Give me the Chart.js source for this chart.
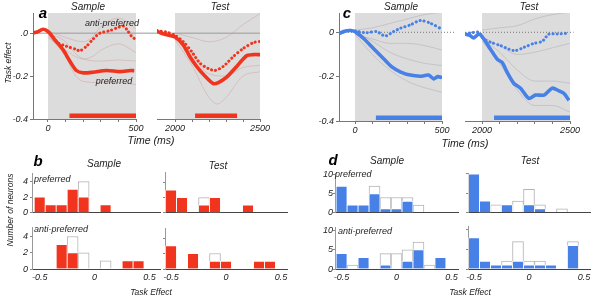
<!DOCTYPE html>
<html>
<head>
<meta charset="utf-8">
<script src="https://cdn.jsdelivr.net/npm/chart.js@4.4.0/dist/chart.umd.min.js"></script>
<style>
body { margin: 0; background: #fff; width: 601px; height: 298px; position: relative; overflow: hidden;
       font-family: "Liberation Sans", Arial, sans-serif; }
canvas { position: absolute; }
.t { position: absolute; transform: translate(-50%, -50%); white-space: nowrap; font-style: italic; color: #222; line-height: 1; }
.l { position: absolute; transform: translate(0, -50%); white-space: nowrap; font-style: italic; color: #222; font-size: 9px; line-height: 1; }
.lt { font-size: 15px; font-weight: bold; color: #000; }
.ttl { font-size: 10px; }
.ax { font-size: 10.5px; }
.rot { transform: translate(-50%, -50%) rotate(-90deg); font-size: 8.5px; }
</style>
</head>
<body>
<canvas id="aS" width="150" height="135" style="left:0;top:0"></canvas>
<canvas id="aT" width="125" height="135" style="left:150px;top:0"></canvas>
<canvas id="cS" width="155" height="135" style="left:300px;top:0"></canvas>
<canvas id="cT" width="140" height="135" style="left:455px;top:0"></canvas>

<canvas id="bSP" width="165" height="55" style="left:0;top:165px"></canvas>
<canvas id="bSA" width="165" height="78" style="left:0;top:220px"></canvas>
<canvas id="bTP" width="150" height="53" style="left:150px;top:165px"></canvas>
<canvas id="bTA" width="150" height="78" style="left:150px;top:220px"></canvas>
<canvas id="dSP" width="165" height="53" style="left:300px;top:165px"></canvas>
<canvas id="dSA" width="165" height="78" style="left:300px;top:220px"></canvas>
<canvas id="dTP" width="146" height="53" style="left:455px;top:165px"></canvas>
<canvas id="dTA" width="146" height="78" style="left:455px;top:220px"></canvas>

<div class="t lt" style="left:43px;top:12px">a</div>
<div class="t ttl" style="left:88px;top:7px">Sample</div>
<div class="t ttl" style="left:220px;top:7px">Test</div>
<div class="t" style="left:112px;top:23px;font-size:9px">anti-preferred</div>
<div class="t" style="left:114px;top:81px;font-size:9px">preferred</div>
<div class="t rot" style="left:8px;top:63px">Task effect</div>
<div class="t ax" style="left:151px;top:140px">Time (ms)</div>

<div class="t lt" style="left:347px;top:12px">c</div>
<div class="t ttl" style="left:401px;top:7px">Sample</div>
<div class="t ttl" style="left:529px;top:7px">Test</div>
<div class="t ax" style="left:465px;top:143px">Time (ms)</div>

<div class="t lt" style="left:38px;top:160px">b</div>
<div class="t ttl" style="left:104px;top:164px">Sample</div>
<div class="t ttl" style="left:218px;top:166px">Test</div>
<div class="l" style="left:34px;top:179px">preferred</div>
<div class="l" style="left:34px;top:229px">anti-preferred</div>
<div class="t rot" style="left:10px;top:210px">Number of neurons</div>
<div class="t" style="left:151px;top:292px;font-size:8.5px">Task Effect</div>

<div class="t lt" style="left:333px;top:159px">d</div>
<div class="t ttl" style="left:387px;top:161px">Sample</div>
<div class="t ttl" style="left:530px;top:161px">Test</div>
<div class="l" style="left:335px;top:174px">preferred</div>
<div class="l" style="left:338px;top:231px">anti-preferred</div>
<div class="t" style="left:470px;top:292px;font-size:8.5px">Task Effect</div>

<script>
// ---------- time courses (ms -> task effect) ----------
var aSamplePrefT = [-88, -60, -28, 0, 38, 85, 124, 161, 200, 256, 333, 408, 470, 490];
var aSamplePrefV = [0.0, 0.006, 0.018, 0.008, -0.03, -0.076, -0.13, -0.174, -0.185, -0.182, -0.174, -0.179, -0.174, -0.175];
var aSampleAntiT = [-88, -60, -28, 10, 57, 105, 162, 181, 219, 257, 295, 352, 399, 428, 447, 475, 494];
var aSampleAntiV = [0.0, 0.006, 0.018, 0.0, -0.045, -0.061, -0.076, -0.083, -0.061, -0.027, 0.0, 0.012, 0.027, 0.033, 0.018, -0.015, -0.027];
var aSampleBands = [
  [[0, 100, 150, 200, 300, 400, 500], [0.0, -0.04, -0.09, -0.12, -0.13, -0.125, -0.13]],
  [[0, 100, 150, 200, 300, 400, 500], [-0.01, -0.11, -0.19, -0.225, -0.23, -0.23, -0.24]],
  [[0, 100, 200, 250, 300, 400, 500], [0.01, -0.02, -0.04, -0.02, 0.03, 0.07, 0.02]],
  [[0, 100, 200, 250, 300, 400, 500], [-0.02, -0.08, -0.12, -0.11, -0.08, -0.05, -0.09]]
];
var aSampleSig = [122, 500];

var aTestPrefT = [1895, 1951, 2000, 2049, 2088, 2127, 2176, 2225, 2255, 2304, 2363, 2421, 2461, 2500];
var aTestPrefV = [0.008, -0.008, -0.018, -0.056, -0.11, -0.155, -0.2, -0.235, -0.23, -0.205, -0.155, -0.105, -0.1, -0.1];
var aTestAntiT = [1895, 1951, 2000, 2049, 2098, 2147, 2196, 2235, 2284, 2343, 2402, 2461, 2500];
var aTestAntiV = [0.012, 0.005, -0.01, -0.04, -0.086, -0.14, -0.165, -0.174, -0.155, -0.109, -0.071, -0.044, -0.038];
var aTestBands = [
  [[2000, 2100, 2200, 2300, 2400, 2500], [0.0, -0.02, -0.04, -0.02, 0.04, 0.09]],
  [[2000, 2100, 2200, 2300, 2400, 2500], [-0.02, -0.1, -0.19, -0.2, -0.16, -0.15]],
  [[2000, 2100, 2200, 2250, 2300, 2400, 2500], [-0.03, -0.15, -0.3, -0.33, -0.3, -0.2, -0.18]]
];
var aTestSig = [2118, 2365];

var cSamplePrefT = [-90, -60, -29, 0, 48, 106, 163, 212, 260, 317, 375, 423, 452, 475, 500];
var cSamplePrefV = [-0.005, 0.005, 0.008, 0.003, -0.027, -0.073, -0.118, -0.156, -0.178, -0.193, -0.198, -0.193, -0.21, -0.2, -0.204];
var cSampleAntiT = [-90, -60, -29, 19, 67, 125, 173, 221, 260, 317, 375, 433, 500];
var cSampleAntiV = [-0.005, 0.003, 0.01, 0.003, -0.002, 0.003, -0.017, 0.003, 0.018, 0.033, 0.053, 0.041, 0.014];
var cSampleBands = [
  [[0, 100, 200, 300, 400, 500], [0.01, 0.02, 0.04, 0.06, 0.08, 0.09]],
  [[0, 100, 200, 300, 400, 500], [-0.01, -0.03, -0.05, -0.05, -0.06, -0.08]],
  [[0, 100, 200, 300, 400, 500], [0.0, -0.04, -0.09, -0.12, -0.14, -0.15]],
  [[0, 100, 200, 300, 400, 500], [-0.01, -0.1, -0.17, -0.22, -0.25, -0.27]]
];
var cSampleSig = [120, 500];

var cTestPrefT = [1905, 1933, 1952, 1981, 2000, 2048, 2086, 2114, 2143, 2181, 2219, 2266, 2304, 2352, 2399, 2437, 2466, 2494];
var cTestPrefV = [-0.008, -0.015, -0.026, -0.008, -0.02, -0.076, -0.121, -0.136, -0.181, -0.231, -0.252, -0.298, -0.283, -0.283, -0.252, -0.264, -0.276, -0.307];
var cTestAntiT = [1905, 1933, 1981, 2010, 2048, 2105, 2152, 2190, 2238, 2295, 2342, 2380, 2428, 2475, 2494];
var cTestAntiV = [-0.008, -0.003, 0.0, -0.03, -0.045, -0.06, -0.076, -0.083, -0.068, -0.05, -0.041, -0.008, -0.008, -0.005, -0.005];
var cTestBands = [
  [[2000, 2100, 2200, 2300, 2400, 2500], [0.01, 0.02, 0.03, 0.06, 0.08, 0.09]],
  [[2000, 2100, 2200, 2300, 2400, 2500], [-0.02, -0.06, -0.1, -0.09, -0.07, -0.05]],
  [[2000, 2100, 2200, 2300, 2400, 2500], [-0.03, -0.09, -0.17, -0.22, -0.22, -0.23]],
  [[2000, 2100, 2200, 2300, 2400, 2500], [-0.04, -0.14, -0.26, -0.33, -0.33, -0.36]]
];
var cTestSig = [2068, 2500];

var sigLevel = -0.385;
var sampleWindow = [0, 500];
var testWindow = [2000, 2500];
var sampleTicks = [0, 100, 200, 300, 400, 500];
var testTicks = [2000, 2100, 2200, 2300, 2400, 2500];
var sampleTickLabels = ['0', '', '', '', '', '500'];
var testTickLabels = ['2000', '', '', '', '', '2500'];
var effectTicks = [0, -0.2, -0.4];
var aEffectLabels = ['.0', '-0.2', '-0.4'];
var cEffectLabels = ['0', '-0.2', '-0.4'];

// ---------- histograms (task effect bins, neuron counts) ----------
var bins = [-0.5, -0.4, -0.3, -0.2, -0.1, 0, 0.1, 0.2, 0.3, 0.4];
var bSamplePrefSig = [2, 1, 1, 3, 2, 0, 1, 0, 0, 0];
var bSamplePrefAll = [2, 1, 1, 3, 4, 0, 1, 0, 0, 0];
var bSampleAntiSig = [0, 0, 3, 2, 0, 0, 0, 0, 1, 1];
var bSampleAntiAll = [0, 0, 3, 4, 2, 0, 1, 0, 1, 1];
var bTestPrefSig = [3, 2, 0, 1, 2, 0, 0, 1, 0, 0];
var bTestPrefAll = [3, 2, 0, 2, 2, 0, 0, 1, 0, 0];
var bTestAntiSig = [3, 0, 2, 0, 1, 1, 0, 0, 1, 1];
var bTestAntiAll = [3, 0, 2, 0, 2, 1, 0, 0, 1, 1];
var dSamplePrefSig = [7, 2, 2, 5, 1, 1, 3, 0, 0, 0];
var dSamplePrefAll = [7, 2, 2, 7, 4, 4, 4, 2, 0, 0];
var dSampleAntiSig = [4, 0, 3, 0, 1, 0, 2, 5, 0, 3];
var dSampleAntiAll = [4, 1, 3, 0, 4, 4, 5, 7, 1, 3];
var dTestPrefSig = [10, 3, 0, 2, 0, 2, 1, 0, 0, 0];
var dTestPrefAll = [10, 3, 2, 2, 3, 6, 2, 0, 1, 0];
var dTestAntiSig = [8, 2, 1, 1, 2, 1, 1, 1, 0, 6];
var dTestAntiAll = [8, 2, 1, 2, 7, 2, 2, 1, 0, 7];
var effectBinTicks = [-0.5, 0, 0.5];
var effectBinLabels = ['-0.5', '0', '0.5'];
var bCountTicks = [0, 2, 4];
var dCountTicks = [0, 5, 10];

var red = '#f0341e';
var blue = '#4780e6';
var shadeCol = '#dcdcdc';
var tickFont = {family: 'Liberation Sans', size: 9, style: 'italic'};

function pts(t, v) {
  return t.map(function (x, i) { return {x: x, y: v[i]}; });
}

function timeChart(id, o) {
  var ds = [
    {data: pts(o.shade, [o.yMax, o.yMax]), fill: 'start', backgroundColor: shadeCol,
     borderWidth: 0, pointRadius: 0, order: 10},
    {data: pts(o.zero, [0, 0]), borderColor: o.zeroColor, borderWidth: 1, borderDash: o.zeroDash,
     pointRadius: 0, order: 8, clip: false}
  ];
  o.bands.forEach(function (b) {
    ds.push({data: pts(b[0], b[1]), borderColor: o.bandColor, borderWidth: 0.8, pointRadius: 0,
             cubicInterpolationMode: 'monotone', order: 6});
  });
  ds.push({data: pts(o.sig, [sigLevel, sigLevel]), borderColor: o.color, borderWidth: 4.5, pointRadius: 0, order: 3});
  ds.push({data: pts(o.antiT, o.antiV), borderColor: o.color, borderWidth: 3, borderDash: [0.1, 4],
           borderCapStyle: 'round', pointRadius: 0, tension: 0.25, order: 2});
  ds.push({data: pts(o.prefT, o.prefV), borderColor: o.color, borderWidth: 3.6, pointRadius: 0,
           tension: 0.25, borderJoinStyle: 'round', order: 1});

  new Chart(document.getElementById(id), {
    type: 'line',
    data: {datasets: ds},
    options: {
      responsive: false,
      animation: false,
      events: [],
      layout: {padding: {left: o.pl, right: o.pr, top: o.pt, bottom: 0}},
      plugins: {legend: {display: false}, tooltip: {enabled: false}},
      scales: {
        x: {
          type: 'linear', min: o.xMin, max: o.xMax,
          afterBuildTicks: function (s) { s.ticks = o.xTicks.map(function (v) { return {value: v}; }); },
          afterFit: function (s) { s.height = o.xh; },
          ticks: {autoSkip: false, maxRotation: 0, padding: 1, font: tickFont, color: '#222',
                  callback: function (v, i) { return o.xLabels[i]; }},
          grid: {drawOnChartArea: false, tickLength: 3, color: '#777'},
          border: {display: true, color: '#777'}
        },
        y: {
          display: o.showY, min: -0.4, max: o.yMax,
          afterBuildTicks: function (s) { s.ticks = effectTicks.map(function (v) { return {value: v}; }); },
          afterFit: function (s) { s.width = o.yw; },
          ticks: {autoSkip: false, padding: 2, font: tickFont, color: '#222',
                  callback: function (v, i) { return o.yLabels[i]; }},
          grid: {drawOnChartArea: false, tickLength: 3, color: '#777'},
          border: {display: true, color: '#777'}
        }
      }
    }
  });
}

timeChart('aS', {prefT: aSamplePrefT, prefV: aSamplePrefV, antiT: aSampleAntiT, antiV: aSampleAntiV,
  bands: aSampleBands, sig: aSampleSig, shade: sampleWindow, zero: [-85, 590], zeroColor: '#9a9a9a', zeroDash: [],
  color: red, bandColor: 'rgba(205,160,160,0.6)', xMin: -85, xMax: 500, yMax: 0.094,
  xTicks: sampleTicks, xLabels: sampleTickLabels, yLabels: aEffectLabels, showY: true,
  pl: 0, pr: 14, pt: 13, xh: 16, yw: 33});
timeChart('aT', {prefT: aTestPrefT, prefV: aTestPrefV, antiT: aTestAntiT, antiV: aTestAntiV,
  bands: aTestBands, sig: aTestSig, shade: testWindow, zero: [1850, 2500], zeroColor: '#9a9a9a', zeroDash: [],
  color: red, bandColor: 'rgba(205,160,160,0.6)', xMin: 1894, xMax: 2500, yMax: 0.094,
  xTicks: testTicks, xLabels: testTickLabels, yLabels: aEffectLabels, showY: false,
  pl: 7, pr: 15, pt: 13, xh: 16, yw: 0});
timeChart('cS', {prefT: cSamplePrefT, prefV: cSamplePrefV, antiT: cSampleAntiT, antiV: cSampleAntiV,
  bands: cSampleBands, sig: cSampleSig, shade: sampleWindow, zero: [-92, 640], zeroColor: '#777', zeroDash: [1, 2],
  color: blue, bandColor: 'rgba(160,160,175,0.5)', xMin: -92, xMax: 500, yMax: 0.087,
  xTicks: sampleTicks, xLabels: sampleTickLabels, yLabels: cEffectLabels, showY: true,
  pl: 0, pr: 13, pt: 13, xh: 14, yw: 39});
timeChart('cT', {prefT: cTestPrefT, prefV: cTestPrefV, antiT: cTestAntiT, antiV: cTestAntiV,
  bands: cTestBands, sig: cTestSig, shade: testWindow, zero: [1903, 2520], zeroColor: '#777', zeroDash: [1, 2],
  color: blue, bandColor: 'rgba(160,160,175,0.5)', xMin: 1903, xMax: 2500, yMax: 0.087,
  xTicks: testTicks, xLabels: testTickLabels, yLabels: cEffectLabels, showY: false,
  pl: 10, pr: 25, pt: 13, xh: 14, yw: 0});

function histChart(id, o) {
  var common = {grouped: false, barPercentage: 1, categoryPercentage: 1, borderSkipped: 'bottom'};
  var sigSet = Object.assign({
    data: bins.map(function (b, i) { return {x: b, y: o.sig[i] > 0 ? o.sig[i] : null}; }),
    backgroundColor: o.color, borderColor: '#fff', borderWidth: 0.8, order: 0
  }, common);
  var allSet = Object.assign({
    data: bins.map(function (b, i) { return {x: b, y: o.all[i] > o.sig[i] ? o.all[i] : null}; }),
    backgroundColor: '#fff', borderColor: '#b4b4b4', borderWidth: 1, order: 1
  }, common);

  new Chart(document.getElementById(id), {
    type: 'bar',
    data: {datasets: [sigSet, allSet]},
    options: {
      responsive: false,
      animation: false,
      events: [],
      layout: {padding: {left: 0, right: o.pr, top: o.pt, bottom: 0}},
      plugins: {legend: {display: false}, tooltip: {enabled: false}},
      scales: {
        x: {
          type: 'linear', min: o.xMin, max: o.xMax, offset: false,
          afterBuildTicks: function (s) { s.ticks = effectBinTicks.map(function (v) { return {value: v}; }); },
          afterFit: function (s) { s.height = o.xh; },
          ticks: {display: o.showX, autoSkip: false, maxRotation: 0, padding: 3, font: tickFont, color: '#222',
                  callback: function (v, i) { return effectBinLabels[i]; }},
          grid: {display: false, offset: false, drawTicks: false, tickLength: 0},
          border: {display: true, color: '#444'}
        },
        y: {
          min: 0, max: o.yMax,
          afterBuildTicks: function (s) { s.ticks = o.yTicks.map(function (v) { return {value: v}; }); },
          afterFit: function (s) { s.width = o.yw; },
          ticks: {autoSkip: false, padding: o.yPad, font: tickFont, color: '#222',
                  callback: function (v, i) { return o.showYLabels ? String(o.yTicks[i]) : ''; }},
          grid: {drawOnChartArea: false, tickLength: 2, color: '#888'},
          border: {display: true, color: '#999'}
        }
      }
    }
  });
}

histChart('bSP', {sig: bSamplePrefSig, all: bSamplePrefAll, color: red, xMin: -0.57, xMax: 0.595, yMax: 5.12,
  yTicks: bCountTicks, showYLabels: true, showX: false, pr: 5, pt: 8, xh: 4, yw: 32, yPad: 2});
histChart('bSA', {sig: bSampleAntiSig, all: bSampleAntiAll, color: red, xMin: -0.57, xMax: 0.595, yMax: 5.12,
  yTicks: bCountTicks, showYLabels: true, showX: true, pr: 5, pt: 6, xh: 29, yw: 32, yPad: 2});
histChart('bTP', {sig: bTestPrefSig, all: bTestPrefAll, color: red, xMin: -0.555, xMax: 0.555, yMax: 5.4,
  yTicks: bCountTicks, showYLabels: false, showX: false, pr: 13, pt: 7, xh: 4, yw: 15, yPad: 0});
histChart('bTA', {sig: bTestAntiSig, all: bTestAntiAll, color: red, xMin: -0.555, xMax: 0.555, yMax: 5.3,
  yTicks: bCountTicks, showYLabels: false, showX: true, pr: 13, pt: 8, xh: 29, yw: 15, yPad: 0});
histChart('dSP', {sig: dSamplePrefSig, all: dSamplePrefAll, color: blue, xMin: -0.56, xMax: 0.56, yMax: 10.5,
  yTicks: dCountTicks, showYLabels: true, showX: false, pr: 7, pt: 8, xh: 4, yw: 35, yPad: 0});
histChart('dSA', {sig: dSampleAntiSig, all: dSampleAntiAll, color: blue, xMin: -0.56, xMax: 0.56, yMax: 10.9,
  yTicks: dCountTicks, showYLabels: true, showX: true, pr: 7, pt: 7, xh: 29, yw: 35, yPad: 0});
histChart('dTP', {sig: dTestPrefSig, all: dTestPrefAll, color: blue, xMin: -0.555, xMax: 0.555, yMax: 10.25,
  yTicks: dCountTicks, showYLabels: false, showX: false, pr: 11, pt: 8, xh: 4, yw: 13, yPad: 0});
histChart('dTA', {sig: dTestAntiSig, all: dTestAntiAll, color: blue, xMin: -0.555, xMax: 0.555, yMax: 11,
  yTicks: dCountTicks, showYLabels: false, showX: true, pr: 11, pt: 6, xh: 29, yw: 13, yPad: 0});
</script>
</body>
</html>
